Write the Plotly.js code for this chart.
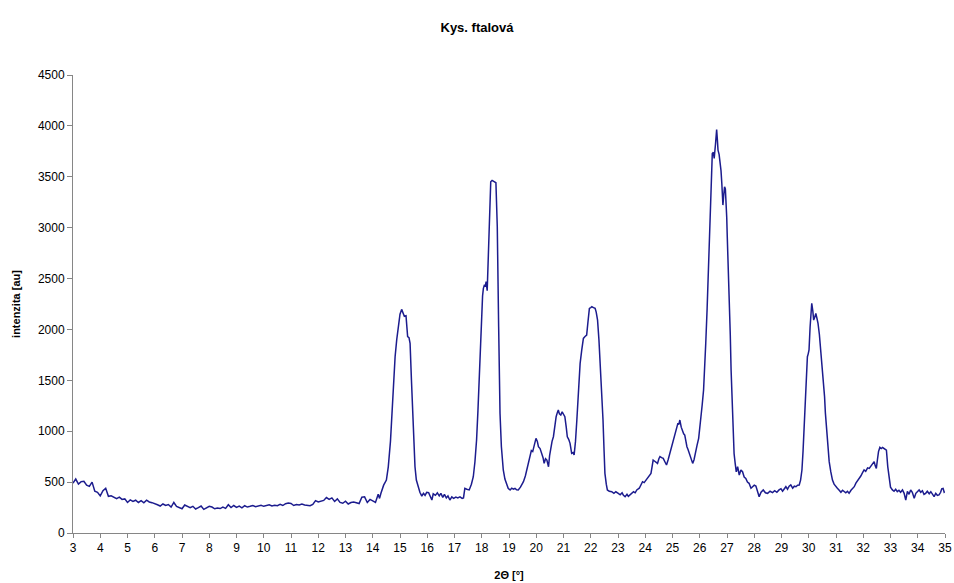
<!DOCTYPE html>
<html>
<head>
<meta charset="utf-8">
<script src="https://cdn.plot.ly/plotly-3.0.1.min.js"></script>
<style>
  html, body { margin: 0; padding: 0; background: #ffffff; }
  #chart { width: 954px; height: 583px; }
</style>
</head>
<body>
<div id="chart"></div>
<script>
// Diffraction pattern of phthalic acid: 2-theta angle [deg] and measured intensity [au]
const twoTheta = [
  3.0, 3.1, 3.2, 3.3, 3.4, 3.5, 3.6, 3.7, 3.8, 3.9,
  4.0, 4.1, 4.2, 4.3, 4.4, 4.5, 4.6, 4.7, 4.8, 4.9,
  5.0, 5.1, 5.2, 5.3, 5.4, 5.5, 5.6, 5.7, 5.8, 5.9,
  6.0, 6.1, 6.2, 6.3, 6.4, 6.5, 6.6, 6.7, 6.8, 6.9,
  7.0, 7.1, 7.2, 7.3, 7.4, 7.5, 7.6, 7.7, 7.8, 7.9,
  8.0, 8.1, 8.2, 8.3, 8.4, 8.5, 8.6, 8.7, 8.8, 8.9,
  9.0, 9.1, 9.2, 9.3, 9.4, 9.5, 9.6, 9.7, 9.8, 9.9,
  10.0, 10.1, 10.2, 10.3, 10.4, 10.5, 10.6, 10.7, 10.8, 10.9,
  11.0, 11.1, 11.2, 11.3, 11.4, 11.5, 11.6, 11.7, 11.8, 11.9,
  12.0, 12.1, 12.2, 12.3, 12.4, 12.5, 12.6, 12.7, 12.8, 12.9,
  13.0, 13.1, 13.2, 13.3, 13.4, 13.5, 13.6, 13.7, 13.8, 13.9,
  14.0, 14.1, 14.2, 14.25, 14.3, 14.4, 14.5, 14.57, 14.65, 14.7,
  14.76, 14.82, 14.88, 14.94, 15.0, 15.06, 15.11, 15.16, 15.22, 15.26,
  15.28, 15.33, 15.37, 15.42, 15.47, 15.51, 15.55, 15.6, 15.67, 15.73,
  15.8, 15.86, 15.92, 15.98, 16.05, 16.1, 16.17, 16.22, 16.3, 16.37,
  16.44, 16.5, 16.57, 16.63, 16.7, 16.76, 16.83, 16.9, 16.97, 17.05,
  17.12, 17.2, 17.28, 17.33, 17.38, 17.45, 17.54, 17.62, 17.69, 17.75,
  17.81, 17.86, 17.91, 17.96, 18.0, 18.03, 18.06, 18.1, 18.13, 18.16,
  18.2, 18.24, 18.28, 18.33, 18.38, 18.42, 18.47, 18.52, 18.57, 18.62,
  18.67, 18.72, 18.79, 18.85, 18.91, 18.97, 19.04, 19.1, 19.16, 19.22,
  19.28, 19.34, 19.42, 19.48, 19.53, 19.6, 19.65, 19.71, 19.77, 19.82,
  19.87, 19.93, 19.99, 20.04, 20.08, 20.14, 20.2, 20.25, 20.29, 20.34,
  20.39, 20.45, 20.49, 20.53, 20.58, 20.63, 20.68, 20.73, 20.77, 20.81,
  20.85, 20.9, 20.95, 20.99, 21.05, 21.1, 21.14, 21.19, 21.24, 21.3,
  21.35, 21.39, 21.44, 21.49, 21.55, 21.61, 21.67, 21.73, 21.79, 21.85,
  21.9, 21.95, 22.0, 22.04, 22.1, 22.16, 22.2, 22.25, 22.3, 22.35,
  22.4, 22.45, 22.49, 22.52, 22.57, 22.61, 22.68, 22.77, 22.85, 22.92,
  23.01, 23.08, 23.15, 23.2, 23.26, 23.33, 23.38, 23.44, 23.5, 23.57,
  23.63, 23.69, 23.78, 23.84, 23.9, 23.96, 24.02, 24.1, 24.17, 24.21,
  24.25, 24.29, 24.35, 24.4, 24.45, 24.5, 24.54, 24.6, 24.66, 24.72,
  24.78, 24.84, 24.9, 24.97, 25.04, 25.1, 25.15, 25.2, 25.23, 25.27,
  25.32, 25.37, 25.41, 25.45, 25.49, 25.53, 25.57, 25.61, 25.67, 25.74,
  25.79, 25.83, 25.9, 25.96, 26.0, 26.04, 26.09, 26.14, 26.18, 26.22,
  26.27, 26.31, 26.35, 26.38, 26.42, 26.46, 26.5, 26.53, 26.58, 26.62,
  26.65, 26.67, 26.71, 26.74, 26.78, 26.81, 26.85, 26.88, 26.91, 26.94,
  26.96, 26.99, 27.01, 27.05, 27.08, 27.12, 27.15, 27.19, 27.22, 27.26,
  27.3, 27.34, 27.39, 27.45, 27.51, 27.57, 27.63, 27.69, 27.75, 27.81,
  27.88, 27.94, 28.0, 28.06, 28.12, 28.18, 28.25, 28.33, 28.41, 28.49,
  28.58, 28.67, 28.75, 28.83, 28.91, 28.98, 29.04, 29.1, 29.16, 29.22,
  29.28, 29.34, 29.41, 29.47, 29.53, 29.59, 29.65, 29.7, 29.75, 29.79,
  29.83, 29.86, 29.89, 29.92, 29.95, 29.98, 30.01, 30.05, 30.08, 30.11,
  30.15, 30.18, 30.22, 30.26, 30.3, 30.34, 30.39, 30.44, 30.47, 30.5,
  30.54, 30.58, 30.61, 30.65, 30.7, 30.75, 30.81, 30.87, 30.93, 30.99,
  31.05, 31.11, 31.18, 31.24, 31.3, 31.36, 31.42, 31.48, 31.55, 31.61,
  31.67, 31.73, 31.79, 31.85, 31.91, 31.97, 32.03, 32.09, 32.16, 32.22,
  32.28, 32.34, 32.4, 32.44, 32.48, 32.52, 32.56, 32.61, 32.66, 32.71,
  32.77, 32.81, 32.85, 32.9, 32.95, 33.0, 33.07, 33.13, 33.19, 33.25,
  33.31, 33.37, 33.44, 33.5, 33.56, 33.62, 33.68, 33.74, 33.8, 33.87,
  33.93, 33.99, 34.05, 34.11, 34.17, 34.23, 34.29, 34.35, 34.42, 34.48,
  34.54, 34.6, 34.66, 34.72, 34.78, 34.84, 34.88, 34.93, 34.97, 35.0
];

const intensity = [
  490, 530, 480, 505, 508, 470, 458, 500, 410, 400,
  365, 415, 440, 360, 365, 350, 338, 352, 330, 335,
  300, 325, 310, 322, 300, 318, 296, 322, 305, 298,
  290, 278, 265, 285, 270, 280, 255, 300, 262, 250,
  238, 275, 258, 248, 262, 236, 250, 265, 232, 248,
  262, 255, 238, 245, 240, 255, 242, 278, 250, 270,
  252, 265, 248, 268, 255, 262, 270, 258, 266, 272,
  262, 270, 278, 265, 272, 268, 282, 270, 288, 295,
  290, 270, 280, 276, 285, 275, 270, 268, 280, 318,
  305, 310, 320, 348, 330, 345, 310, 335, 300, 292,
  312, 285, 300, 305, 298, 290, 352, 355, 300, 330,
  315, 300, 380, 340, 390, 470, 520, 650, 900, 1176,
  1450, 1732, 1900, 2060, 2150, 2197, 2160, 2130, 2135, 2000,
  1929, 1920, 1864, 1500, 1176, 900, 651, 520, 455, 400,
  363, 390, 370, 400, 396, 360, 324, 385, 370, 395,
  365, 390, 350, 380, 345, 365, 324, 355, 340, 352,
  345, 355, 340, 345, 439, 430, 423, 480, 553, 700,
  914, 1200, 1569, 1950, 2223, 2330, 2404, 2440, 2420, 2469,
  2380, 2682, 3173, 3451, 3465, 3461, 3450, 3441, 3009, 2027,
  1176, 850, 619, 530, 488, 440, 423, 440, 430, 439,
  425, 423, 450, 480, 504, 560, 619, 700, 783, 810,
  800, 880, 930, 900, 848, 830, 783, 740, 684, 730,
  717, 651, 760, 848, 900, 946, 1060, 1143, 1180, 1208,
  1170, 1159, 1190, 1176, 1143, 1040, 946, 920, 881, 783,
  790, 766, 900, 1110, 1400, 1667, 1800, 1912, 1930, 1945,
  2080, 2207, 2215, 2223, 2215, 2207, 2170, 2092, 1900, 1667,
  1400, 1110, 800, 586, 480, 423, 410, 406, 390, 405,
  390, 375, 395, 370, 357, 380, 360, 374, 390, 405,
  395, 423, 440, 480, 504, 495, 520, 540, 570, 586,
  650, 717, 705, 690, 684, 730, 750, 740, 733, 700,
  668, 720, 782, 850, 913, 980, 1044, 1080, 1065, 1110,
  1040, 995, 975, 962, 900, 848, 820, 782, 730, 684,
  720, 782, 860, 930, 1020, 1143, 1260, 1405, 1600, 1864,
  2200, 2518, 2850, 3173, 3500, 3729, 3740, 3680, 3827, 3965,
  3850, 3762, 3720, 3663, 3560, 3434, 3222, 3320, 3402, 3380,
  3303, 3100, 2910, 2600, 2321, 1950, 1601, 1250, 946, 780,
  684, 600, 651, 570, 620, 602, 550, 537, 500, 488,
  440, 455, 470, 461, 400, 357, 400, 423, 395, 390,
  410, 397, 415, 400, 423, 435, 410, 440, 455, 430,
  460, 472, 440, 460, 455, 470, 472, 520, 619, 800,
  1044, 1200, 1372, 1600, 1732, 1760, 1798, 2027, 2150, 2256,
  2180, 2092, 2120, 2158, 2110, 2060, 1950, 1798, 1680, 1569,
  1450, 1340, 1180, 1012, 850, 701, 600, 520, 480, 455,
  440, 423, 400, 420, 406, 395, 410, 390, 420, 440,
  455, 490, 510, 537, 560, 590, 619, 605, 640, 635,
  660, 680, 701, 660, 635, 720, 800, 841, 830, 840,
  832, 825, 815, 650, 520, 450, 423, 410, 430, 406,
  420, 400, 423, 390, 324, 410, 380, 423, 400, 341,
  390, 410, 423, 400, 415, 380, 390, 410, 385, 406,
  380, 357, 390, 370, 374, 400, 435, 439, 400, 406
];

const xTickVals = [3, 4, 5, 6, 7, 8, 9, 10, 11, 12, 13, 14, 15, 16, 17, 18, 19,
                   20, 21, 22, 23, 24, 25, 26, 27, 28, 29, 30, 31, 32, 33, 34, 35];
const yTickVals = [0, 500, 1000, 1500, 2000, 2500, 3000, 3500, 4000, 4500];

const FONT = '"Liberation Sans", Arial, sans-serif';

const trace = {
  x: twoTheta,
  y: intensity,
  type: 'scatter',
  mode: 'lines',
  line: { color: '#1c1c8e', width: 1.5 },
  hoverinfo: 'x+y'
};

const axisCommon = {
  showgrid: false,
  zeroline: false,
  showline: true,
  linecolor: '#868686',
  linewidth: 1,
  ticks: 'outside',
  tickcolor: '#868686',
  tickwidth: 1,
  tickfont: { family: FONT, size: 12, color: '#000000' },
  fixedrange: true
};

const layout = {
  width: 954,
  height: 583,
  margin: { l: 73, r: 9, t: 75, b: 50 },
  paper_bgcolor: '#ffffff',
  plot_bgcolor: '#ffffff',
  showlegend: false,
  title: {
    text: 'Kys. ftalová',
    font: { family: FONT, size: 13, color: '#000000', weight: 'bold' },
    xref: 'container', x: 0.5, xanchor: 'center',
    yref: 'container', y: 1 - 27 / 583, yanchor: 'middle'
  },
  xaxis: Object.assign({}, axisCommon, {
    range: [3, 35],
    tickmode: 'array',
    tickvals: xTickVals,
    ticktext: xTickVals.map(String),
    ticklen: 4,
    title: {
      text: '2Θ [°]',
      font: { family: FONT, size: 11, color: '#000000', weight: 'bold' },
      standoff: 16
    }
  }),
  yaxis: Object.assign({}, axisCommon, {
    range: [0, 4500],
    tickmode: 'array',
    tickvals: yTickVals,
    ticktext: yTickVals.map(String),
    ticklen: 5,
    title: {
      text: 'intenzita [au]',
      font: { family: FONT, size: 11, color: '#000000', weight: 'bold' },
      standoff: 15
    }
  })
};

Plotly.newPlot('chart', [trace], layout, { displayModeBar: false, staticPlot: true });
</script>
</body>
</html>
